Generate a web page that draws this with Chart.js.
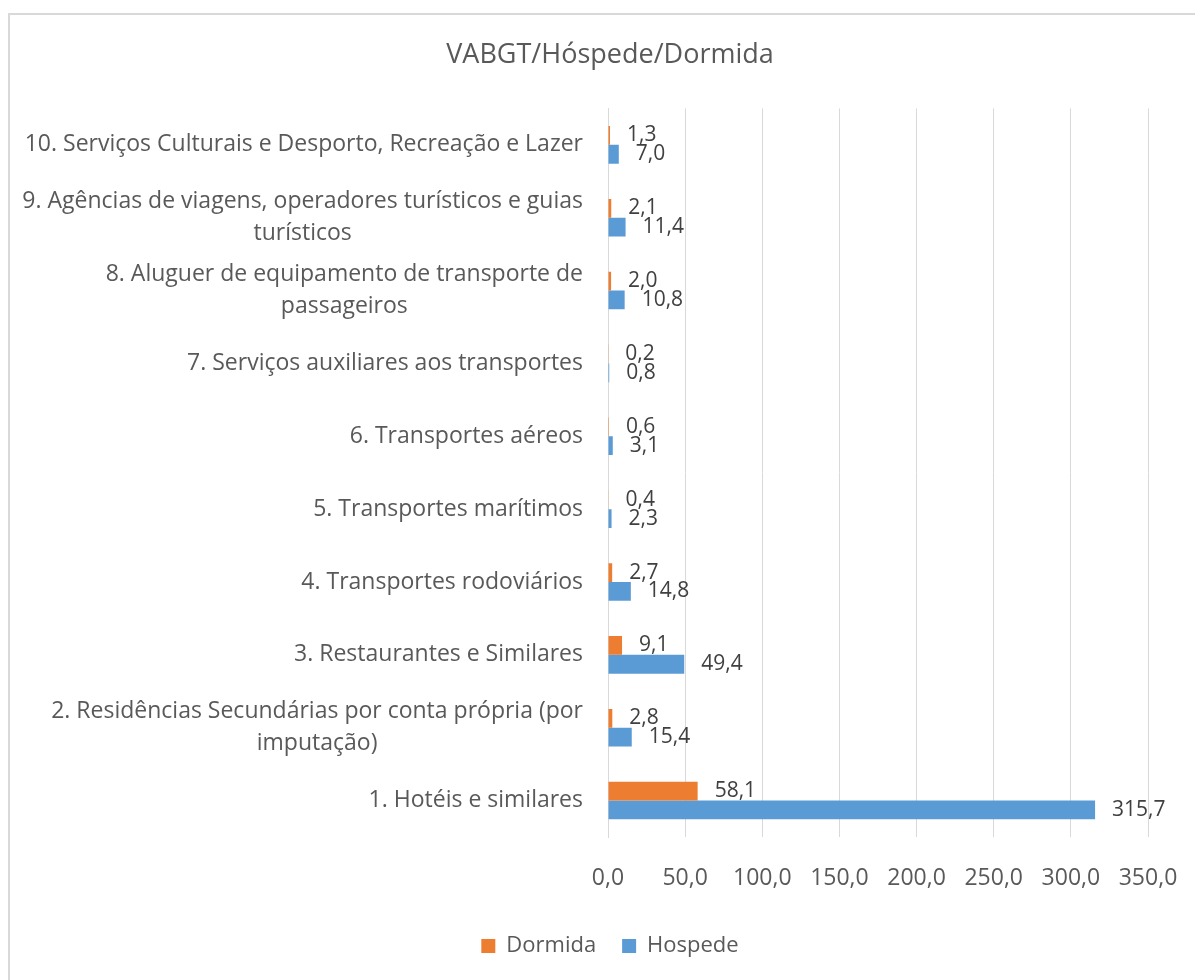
<!DOCTYPE html>
<html><head><meta charset="utf-8">
<script src="https://cdn.jsdelivr.net/npm/chart.js@4/dist/chart.umd.min.js"></script>
<style>
html,body{margin:0;padding:0;background:#fff;overflow:hidden;width:1195px;height:980px}
#frame{position:absolute;left:8px;top:13px;width:1300px;height:1100px;border-top:2px solid #D9D9D9;border-left:2px solid #D9D9D9;box-sizing:border-box}
#wrap{position:absolute;left:0;top:0;width:1220px;height:980px}
</style></head><body>
<div id="frame"></div>
<div id="wrap"><canvas id="c" width="1220" height="980"></canvas></div>
<script>
const chartTitle = "VABGT/Hóspede/Dormida";
const categories = [
  "10. Serviços Culturais e Desporto, Recreação e Lazer",
  ["9. Agências de viagens, operadores turísticos e guias", "turísticos"],
  ["8. Aluguer de equipamento de transporte de", "passageiros"],
  "7. Serviços auxiliares aos transportes",
  "6. Transportes aéreos",
  "5. Transportes marítimos",
  "4. Transportes rodoviários",
  "3. Restaurantes e Similares",
  ["2. Residências Secundárias por conta própria (por", "imputação)"],
  "1. Hotéis e similares"
];
const seriesNames = ["Dormida", "Hospede"];
const dormida = [1.3, 2.1, 2.0, 0.2, 0.6, 0.4, 2.7, 9.1, 2.8, 58.1];
const hospede = [7.0, 11.4, 10.8, 0.8, 3.1, 2.3, 14.8, 49.4, 15.4, 315.7];
const xMin = 0, xMax = 350, xStep = 50;

const FONT = '"Open Sans", "Noto Sans", sans-serif';
const fmt = v => v.toFixed(1).replace('.', ',');

const valueLabels = {
  id: 'valueLabels',
  afterDatasetsDraw(chart) {
    const ctx = chart.ctx;
    ctx.save();
    ctx.font = '21px ' + FONT;
    ctx.fillStyle = '#404040';
    ctx.textAlign = 'left';
    ctx.textBaseline = 'middle';
    chart.data.datasets.forEach((ds, di) => {
      const meta = chart.getDatasetMeta(di);
      meta.data.forEach((bar, i) => {
        ctx.fillText(fmt(ds.data[i]), bar.x + 17, bar.y);
      });
    });
    ctx.restore();
  }
};

const categoryLabels = {
  id: 'categoryLabels',
  afterDraw(chart) {
    const ctx = chart.ctx;
    const ys = chart.scales.y;
    ctx.save();
    ctx.font = '23px ' + FONT;
    ctx.fillStyle = '#595959';
    ctx.textAlign = 'center';
    ctx.textBaseline = 'middle';
    const lh = 32;
    chart.data.labels.forEach((lab, i) => {
      const lines = Array.isArray(lab) ? lab : [lab];
      const maxW = Math.max(...lines.map(l => ctx.measureText(l).width));
      const cx = chart.chartArea.left - 25 - maxW / 2;
      const yc = ys.getPixelForTick(i);
      lines.forEach((l, k) => {
        ctx.fillText(l, cx, yc + (k - (lines.length - 1) / 2) * lh);
      });
    });
    ctx.restore();
  }
};

new Chart(document.getElementById('c'), {
  type: 'bar',
  data: {
    labels: categories,
    datasets: [
      { label: seriesNames[0], data: dormida, backgroundColor: '#ED7D31', borderWidth: 0 },
      { label: seriesNames[1], data: hospede, backgroundColor: '#5B9BD5', borderWidth: 0 }
    ]
  },
  options: {
    indexAxis: 'y',
    responsive: false,
    animation: false,
    categoryPercentage: 0.516,
    barPercentage: 1.0,
    layout: { padding: { left: 0, right: 0, top: 0, bottom: 13 } },
    plugins: {
      title: {
        display: true, text: chartTitle, color: '#595959',
        font: { family: FONT, size: 27, weight: 'normal' },
        padding: { top: 39, bottom: 37 }
      },
      legend: {
        position: 'bottom',
        labels: {
          color: '#595959', font: { family: FONT, size: 22 },
          boxWidth: 14, boxHeight: 14, padding: 26
        }
      },
      tooltip: { enabled: false }
    },
    scales: {
      x: {
        min: xMin, max: xMax,
        grid: { color: '#D9D9D9', drawTicks: false },
        border: { display: false },
        ticks: {
          stepSize: xStep, padding: 28, color: '#595959',
          font: { family: FONT, size: 23 },
          callback: v => fmt(v)
        },
        afterFit(s) { s.height = 72; }
      },
      y: {
        grid: { display: false, drawTicks: false },
        border: { display: true, color: '#D9D9D9' },
        ticks: { display: false },
        afterFit(s) { s.width = 608; }
      },
      yRight: {
        type: 'linear', position: 'right',
        grid: { display: false, drawTicks: false },
        border: { display: false },
        ticks: { display: false },
        afterFit(s) { s.width = 72; }
      }
    }
  },
  plugins: [valueLabels, categoryLabels]
});
</script>
</body></html>
